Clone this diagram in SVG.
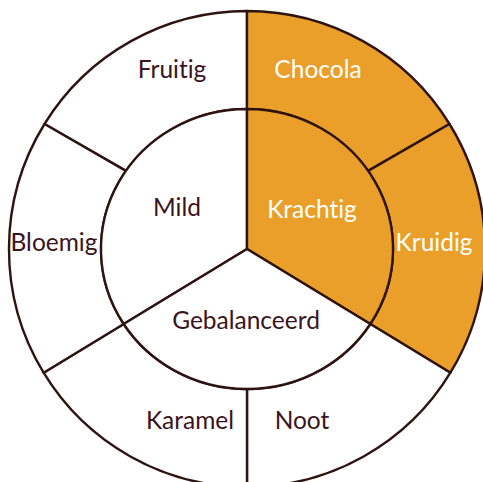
<svg xmlns="http://www.w3.org/2000/svg" width="483" height="482" viewBox="0 0 483 482">
<style>
.seg{stroke:#2e1410;stroke-width:2.4;stroke-linejoin:round}
.w{fill:#ffffff}
.o{fill:#EA9F2B}
text{font-family:Lato,"Noto Sans",sans-serif;font-size:24.5px;text-anchor:middle;font-variant-ligatures:none}
.dk{fill:#3a1420}
.lt{fill:#ffffff}
</style>
<rect width="483" height="482" fill="#ffffff"/>
<g id="fruitig">
<path class="seg w" d="M125.9 170.9 L44.5 124 A238 238 0 0 1 247 11 L247 109 A146 140 0 0 0 125.9 170.9 Z"/>
<text class="dk" x="172" y="78">Fruitig</text>
</g>
<g id="chocola">
<path class="seg o" d="M247 109 L247 11 A238 238 0 0 1 449.5 124 L368.1 170.9 A146 140 0 0 0 247 109 Z"/>
<text class="lt" x="318" y="78">Chocola</text>
</g>
<g id="kruidig">
<path class="seg o" d="M368.1 170.9 L449.5 124 A238 238 0 0 1 450.4 372.7 L370.3 324 A146 140 0 0 0 368.1 170.9 Z"/>
<text class="lt" x="434" y="251">Kruidig</text>
</g>
<g id="noot">
<path class="seg w" d="M370.3 324 L450.4 372.7 A238 238 0 0 1 247 487 L247 389 A146 140 0 0 0 370.3 324 Z"/>
<text class="dk" x="302" y="429">Noot</text>
</g>
<g id="karamel">
<path class="seg w" d="M247 389 L247 487 A238 238 0 0 1 43.6 372.7 L123.7 324 A146 140 0 0 0 247 389 Z"/>
<text class="dk" x="190" y="429">Karamel</text>
</g>
<g id="bloemig">
<path class="seg w" d="M123.7 324 L43.6 372.7 A238 238 0 0 1 44.5 124 L125.9 170.9 A146 140 0 0 0 123.7 324 Z"/>
<text class="dk" x="54" y="251">Bloemig</text>
</g>
<g id="mild">
<path class="seg w" d="M247 249 L123.7 324 A146 140 0 0 1 247 109 Z"/>
<text class="dk" x="177" y="216">Mild</text>
</g>
<g id="krachtig">
<path class="seg o" d="M247 249 L247 109 A146 140 0 0 1 370.3 324 Z"/>
<text class="lt" x="312" y="218">Krachtig</text>
</g>
<g id="gebalanceerd">
<path class="seg w" d="M247 249 L370.3 324 A146 140 0 0 1 123.7 324 Z"/>
<text class="dk" x="246" y="329">Gebalanceerd</text>
</g>
<g id="connectors"></g>
</svg>
